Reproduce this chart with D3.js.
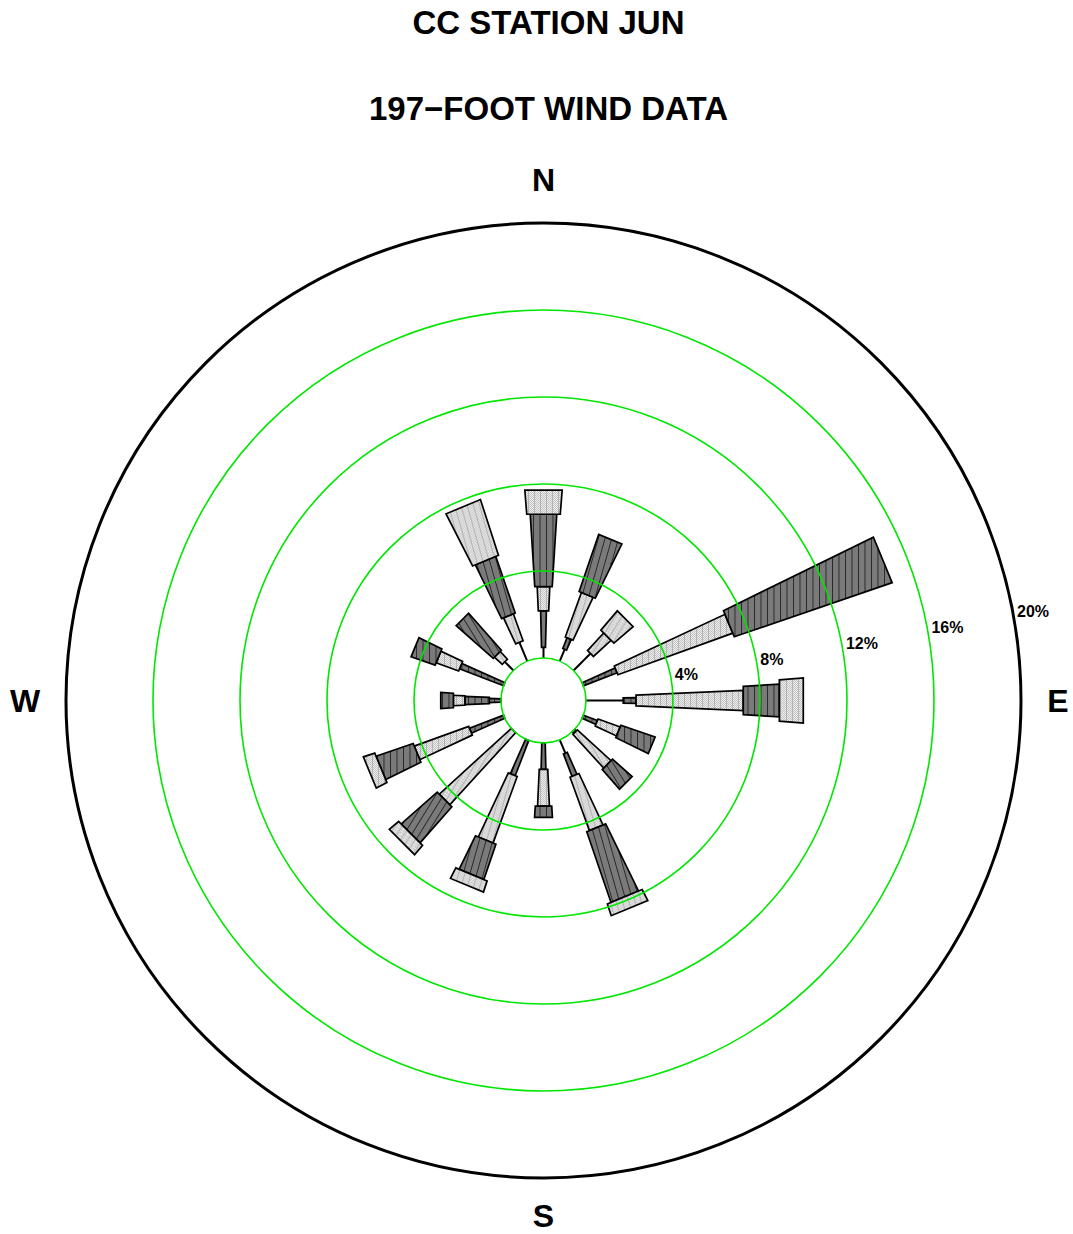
<!DOCTYPE html>
<html><head><meta charset="utf-8">
<script src="https://cdn.jsdelivr.net/npm/d3@7"></script>
<style>body{margin:0;background:#fff}svg{display:block}</style>
</head><body>
<svg id="chart" width="1073" height="1234"></svg>
<script>
// ---- data (percent frequency per speed class, directions clockwise from N) ----
const directions = ["N","NNE","NE","ENE","E","ESE","SE","SSE","S","SSW","SW","WSW","W","WNW","NW","NNW"];
const speedClasses = ["Class 0","Class 1","Class 2","Class 3","Class 4","Class 5"];
const class0 = [0.49,0.59,1.10,0.00,1.71,0.00,0.00,0.67,0.00,0.00,0.00,0.00,0.00,0.00,0.56,0.94];
const class1 = [1.68,0.54,0.00,1.66,0.59,0.69,0.10,1.10,1.21,1.74,0.00,1.68,0.54,2.17,0.00,0.00];
const class2 = [0.00,0.00,0.00,0.00,0.00,0.00,0.00,0.00,0.00,0.00,0.00,0.00,1.12,0.00,0.00,0.00];
const class3 = [1.11,2.17,1.10,5.61,4.93,1.08,2.10,2.61,1.69,3.25,4.48,2.66,0.53,1.10,0.49,1.32];
const class4 = [3.33,2.77,0.00,7.66,1.66,1.66,1.20,3.43,0.52,1.71,2.21,1.80,0.58,1.17,2.27,2.75];
const class5 = [1.11,0.00,1.16,0.00,1.10,0.00,0.00,0.57,0.00,0.54,0.56,0.55,0.00,0.00,0.00,2.68];
const ringTicks = [4,8,12,16,20];
const ringLabels = ["4%","8%","12%","16%","20%"];
const compassLabels = ["N","E","S","W"];
const titleLines = ["CC STATION JUN","197\u2212FOOT WIND DATA"];

// ---- layout / style ----
const W = 1073, H = 1234, cx = 543.5, cy = 700.5;
const font = "'Liberation Sans', Arial, Helvetica, sans-serif";
const svg = d3.select("#chart");
const defs = svg.append("defs");
const rScale = d3.scaleLinear().domain([0, 20]).range([42.5, 477.5]);
const aScale = d3.scaleLinear().domain([0, directions.length]).range([0, 2 * Math.PI]);
const classSeries = [class1, class2, class3, class4, class5];
const classFill = ["dark","dark","light","dark","light"];
const classK = [0.05, 0.08, 0.09, 0.125, 0.158];
const vOff = 26;
const compassR = [520.5, 514.5, 515, 518.5];

function hatchRot(i) {
  const b = aScale(i) * 180 / Math.PI;
  const dev = ((b + 90) % 180) - 90;
  return Math.abs(dev) > 45 ? 0 : dev * 0.7;
}

directions.forEach((d, i) => {
  const rot = hatchRot(i);
  const pd = defs.append("pattern").attr("id", "dk" + i)
    .attr("patternUnits", "userSpaceOnUse").attr("width", 6.5).attr("height", 6.5)
    .attr("patternTransform", `rotate(${rot})`);
  pd.append("rect").attr("width", 6.5).attr("height", 6.5).attr("fill", "#7a7a7a");
  pd.append("line").attr("x1", 0.5).attr("x2", 0.5).attr("y1", 0).attr("y2", 6.5)
    .attr("stroke", "#222").attr("stroke-width", 0.9);
  const pl = defs.append("pattern").attr("id", "lt" + i)
    .attr("patternUnits", "userSpaceOnUse").attr("width", 6).attr("height", 6)
    .attr("patternTransform", `rotate(${rot})`);
  pl.append("rect").attr("width", 6).attr("height", 6).attr("fill", "#eeeeee");
  for (let x = 0; x < 6; x++) for (let y = 0; y < 6; y++) {
    if ((x + y) % 2 === 0) pl.append("rect").attr("x", x).attr("y", y).attr("width", 1).attr("height", 1).attr("fill", "#c4c4c4");
  }
  pl.append("line").attr("x1", 0.5).attr("x2", 0.5).attr("y1", 0).attr("y2", 6)
    .attr("stroke", "#a8a8a8").attr("stroke-width", 0.8);
});

// ---- titles ----
svg.append("text").attr("x", 548.5).attr("y", 33.5).attr("text-anchor", "middle")
  .attr("font-family", font).attr("font-weight", "bold").attr("font-size", 33).text(titleLines[0]);
svg.append("text").attr("x", 548.5).attr("y", 119.5).attr("text-anchor", "middle")
  .attr("font-family", font).attr("font-weight", "bold").attr("font-size", 33).text(titleLines[1]);

// ---- spokes ----
const g = svg.append("g");
function pt(b, r, h) {
  return [cx + Math.sin(b) * r + Math.cos(b) * h, cy - Math.cos(b) * r + Math.sin(b) * h];
}
directions.forEach((d, i) => {
  const b = aScale(i);
  let cum = class0[i];
  if (class0[i] > 0) {
    const p1 = pt(b, rScale(0), 0), p2 = pt(b, rScale(cum), 0);
    g.append("line").attr("x1", p1[0]).attr("y1", p1[1]).attr("x2", p2[0]).attr("y2", p2[1])
      .attr("stroke", "#000").attr("stroke-width", 2);
  }
  classSeries.forEach((series, c) => {
    const v = series[i];
    if (v <= 0) return;
    const r1 = rScale(cum), r2 = rScale(cum + v);
    cum += v;
    const h1 = classK[c] * (r1 + vOff) / 2, h2 = classK[c] * (r2 + vOff) / 2;
    const poly = [pt(b, r1, -h1), pt(b, r2, -h2), pt(b, r2, h2), pt(b, r1, h1)];
    g.append("path").attr("d", d3.line().curve(d3.curveLinearClosed)(poly))
      .attr("fill", `url(#${classFill[c] === "dark" ? "dk" : "lt"}${i})`)
      .attr("stroke", "#000").attr("stroke-width", 1.7).attr("stroke-linejoin", "miter");
  });
});

// ---- rings ----
svg.append("circle").attr("cx", cx).attr("cy", cy).attr("r", rScale(0))
  .attr("fill", "none").attr("stroke", "#00e600").attr("stroke-width", 1.6);
ringTicks.forEach((t, k) => {
  const last = k === ringTicks.length - 1;
  svg.append("circle").attr("cx", cx).attr("cy", cy).attr("r", rScale(t))
    .attr("fill", "none").attr("stroke", last ? "#000" : "#00e600").attr("stroke-width", last ? 3 : 1.6);
  const ang = 10.5 * Math.PI / 180;
  svg.append("text")
    .attr("x", cx + rScale(t) * Math.cos(ang) + 4)
    .attr("y", cy - rScale(t) * Math.sin(ang) - 2)
    .attr("dominant-baseline", "central")
    .attr("font-family", font).attr("font-weight", "bold").attr("font-size", 16)
    .text(ringLabels[k]);
});

// ---- compass labels ----
compassLabels.forEach((t, k) => {
  const b = k * Math.PI / 2, r = compassR[k];
  svg.append("text").attr("x", cx + Math.sin(b) * r).attr("y", cy - Math.cos(b) * r)
    .attr("text-anchor", "middle").attr("dominant-baseline", "central")
    .attr("font-family", font).attr("font-weight", "bold").attr("font-size", 32).text(t);
});
</script>
</body></html>
